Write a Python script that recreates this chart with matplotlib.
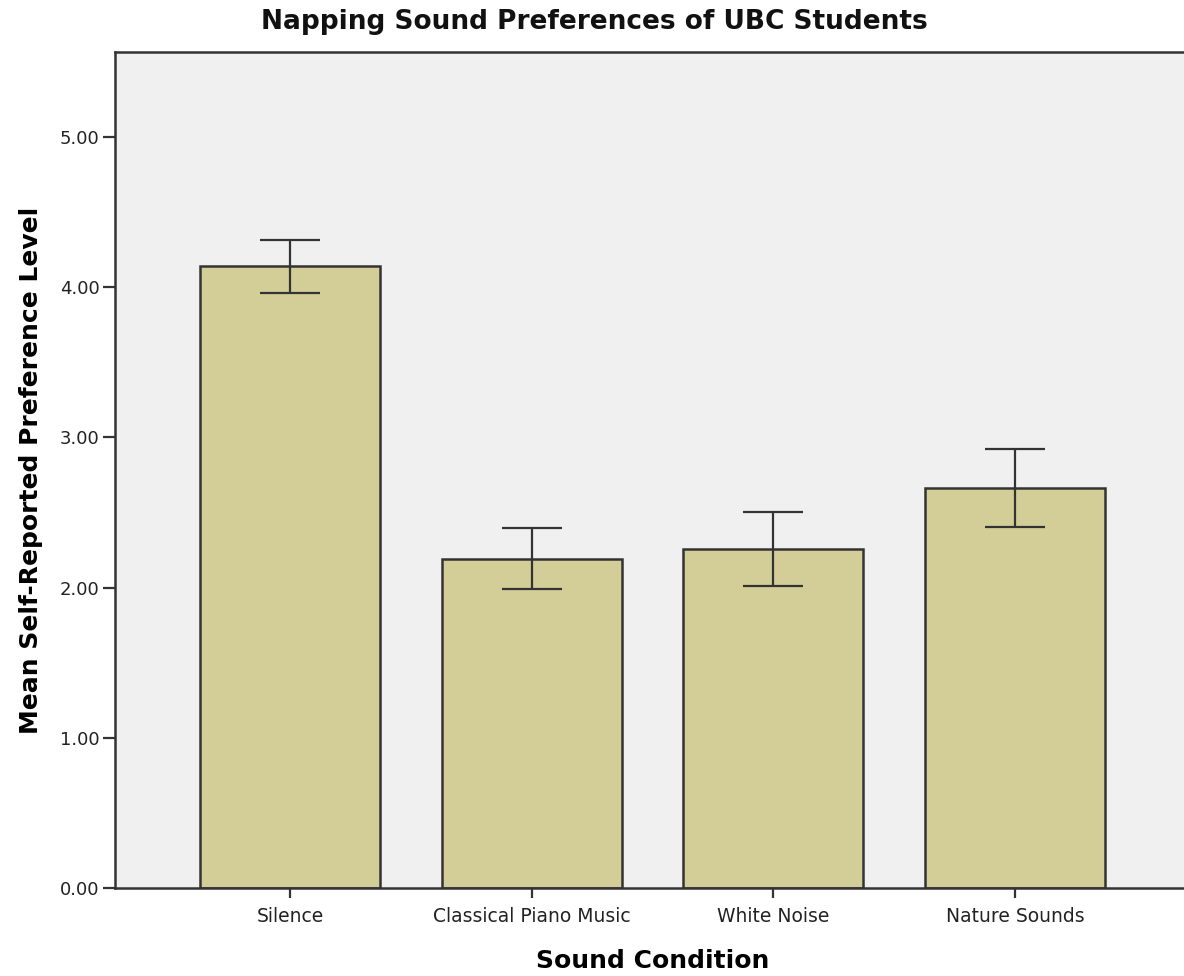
import matplotlib
matplotlib.use("Agg")
import matplotlib.pyplot as plt
import numpy as np

categories = ["Silence", "Classical Piano Music", "White Noise", "Nature Sounds"]
means = [4.14, 2.19, 2.257, 2.663]
err_upper = [4.314, 2.397, 2.503, 2.923]
err_lower = [3.961, 1.991, 2.011, 2.403]
yticks = [0.0, 1.0, 2.0, 3.0, 4.0, 5.0]

plt.rcParams['font.family'] = ['DejaVu Sans']

fig = plt.figure(figsize=(11.84, 9.76), dpi=100)
ax = fig.add_axes([115/1184, 1-888/976, (1190-115)/1184, (888-52)/976])
ax.set_facecolor('#F0F0F0')

x = np.arange(len(categories))
m = np.array(means)
yerr = np.array([m - np.array(err_lower), np.array(err_upper) - m])
ax.bar(x, means, width=0.745, color='#D3CE98', edgecolor='#333333', linewidth=1.8, zorder=2)
ax.errorbar(x, means, yerr=yerr, fmt='none', ecolor='#333333', elinewidth=1.6,
            capsize=21.6, capthick=1.6, zorder=3)

ax.set_xlim(-0.725, 3.725)
ax.set_ylim(0, 5.566)
ax.set_yticks(yticks)
ax.set_yticklabels([f"{v:.2f}" for v in yticks], fontsize=13, color='#222222')
ax.set_xticks(x)
ax.set_xticklabels(categories, fontsize=13.5, color='#222222')
ax.tick_params(axis='y', length=9, width=1.6, color='#333333', pad=2)
ax.tick_params(axis='x', length=7, width=1.6, color='#333333', pad=7)

for s in ['left', 'bottom', 'top']:
    ax.spines[s].set_color('#333333')
    ax.spines[s].set_linewidth(1.8)
ax.spines['right'].set_visible(False)

ax.set_ylabel("Mean Self-Reported Preference Level", fontsize=18, fontweight='bold', labelpad=12)
ax.set_xlabel("Sound Condition", fontsize=18, fontweight='bold', labelpad=16)
fig.text(594/1184, 1-22/976, "Napping Sound Preferences of UBC Students", fontsize=19,
         fontweight='bold', ha='center', va='center', color='#111111')

fig.savefig("out.png", dpi=100)
